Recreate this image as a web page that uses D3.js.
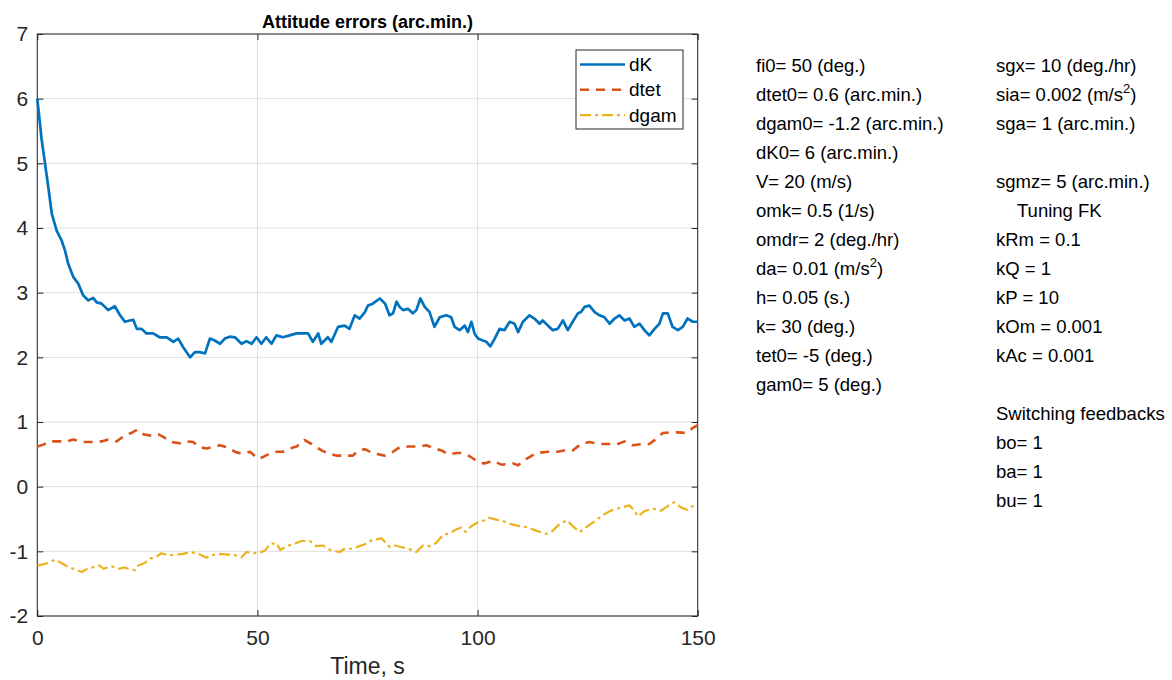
<!DOCTYPE html>
<html>
<head>
<meta charset="utf-8">
<script src="https://cdn.jsdelivr.net/npm/d3@7"></script>
<style>
  body { margin: 0; background: #fff; }
  svg { display: block; font-family: "Liberation Sans", Arial, sans-serif; }
</style>
</head>
<body>
<div id="chart"></div>
<script>
// data, [time s, value arc.min.]
const dK = [[0,6.0],[1,5.36],[1.75,5.0],[2.5,4.63],[3.3,4.22],[4.4,3.96],[5.5,3.81],[6.3,3.65],[7.0,3.45],[8.2,3.24],
  [9.3,3.14],[10.4,2.96],[11.6,2.88],[12.7,2.92],[13.5,2.85],[14.6,2.83],[16.1,2.73],[17.6,2.79],[18.8,2.65],[19.9,2.55],
  [21,2.57],[21.8,2.58],[22.6,2.44],[23.7,2.44],[24.8,2.37],[26.3,2.37],[27.8,2.31],[29.4,2.31],[30.9,2.24],[32,2.29],
  [33.1,2.16],[34.7,2.0],[35.8,2.08],[36.9,2.08],[38.1,2.06],[39.2,2.29],[40.3,2.26],[41.5,2.21],[42.6,2.29],[43.7,2.32],
  [44.9,2.31],[46.4,2.21],[47.5,2.25],[48.7,2.21],[49.8,2.31],[50.9,2.21],[52,2.31],[53.2,2.21],[54.3,2.34],[55.8,2.31],
  [57.3,2.34],[58.9,2.37],[60.4,2.37],[61.5,2.37],[62.6,2.24],[63.8,2.37],[64.5,2.21],[66,2.31],[66.8,2.24],[68.3,2.47],
  [69.8,2.49],[70.9,2.44],[72.1,2.65],[73.2,2.60],[74.4,2.70],[75.1,2.80],[76.2,2.83],[77.8,2.91],[79,2.83],[80,2.65],
  [80.8,2.68],[81.6,2.86],[82.3,2.78],[83.1,2.73],[84.2,2.75],[85.3,2.68],[86.1,2.73],[87,2.91],[88,2.78],[89.1,2.70],
  [90.2,2.47],[91.4,2.62],[92.9,2.65],[94,2.62],[94.8,2.47],[95.9,2.42],[97.1,2.49],[97.8,2.39],[98.6,2.55],[99.3,2.37],
  [100.1,2.29],[101.2,2.26],[102,2.24],[102.9,2.17],[103.9,2.29],[105,2.44],[106.1,2.42],[107.3,2.55],[108.4,2.52],[109.2,2.39],
  [110.3,2.55],[111.8,2.65],[112.9,2.60],[114.1,2.52],[114.8,2.57],[116,2.49],[117.1,2.42],[118.2,2.44],[119.4,2.57],[120.5,2.42],
  [121.6,2.55],[122.8,2.68],[123.5,2.70],[124.3,2.78],[125.4,2.80],[126.6,2.70],[127.7,2.65],[128.8,2.62],[130,2.52],[131.1,2.60],
  [132.2,2.65],[133.4,2.57],[134.5,2.60],[135.6,2.47],[136.8,2.52],[137.9,2.42],[139,2.34],[140.2,2.44],[141.3,2.52],[142.1,2.68],
  [143.2,2.68],[144.3,2.47],[145.5,2.42],[146.6,2.47],[147.7,2.60],[148.9,2.55],[150,2.55]]

const dtet = [[0,0.62],[1.4,0.65],[2.9,0.70],[5.2,0.70],[6.7,0.70],[8.2,0.73],[10.4,0.69],[12.7,0.69],[14.6,0.70],[16.1,0.73],
  [18,0.70],[20.3,0.81],[21.4,0.83],[22.7,0.88],[24.1,0.81],[25.6,0.79],[27.5,0.81],[28.6,0.77],[30.5,0.69],[32.4,0.67],
  [33.9,0.70],[35.4,0.69],[36.9,0.61],[38.4,0.59],[40.3,0.62],[41.5,0.64],[43,0.61],[45.2,0.53],[46.7,0.51],[48.3,0.54],
  [50.2,0.43],[51.3,0.46],[52.8,0.51],[54.3,0.54],[55.8,0.54],[57.3,0.59],[58.9,0.62],[60.7,0.72],[62.3,0.66],[63.4,0.61],
  [64.9,0.55],[66.4,0.51],[67.9,0.48],[69.8,0.48],[71.7,0.48],[72.8,0.56],[74.4,0.58],[76.2,0.52],[78.9,0.48],[80.8,0.54],
  [82.3,0.61],[84.2,0.62],[86.5,0.62],[88.4,0.64],[90.2,0.59],[91.8,0.56],[93.3,0.50],[95.2,0.52],[96.3,0.52],[98.2,0.47],
  [100.5,0.37],[101.6,0.36],[103.5,0.40],[105.4,0.34],[108,0.36],[109.2,0.33],[111.1,0.43],[113.3,0.52],[116,0.54],[118.2,0.54],
  [120.5,0.57],[121.6,0.56],[123.5,0.66],[125.4,0.69],[127.7,0.66],[130,0.66],[131.5,0.65],[133.4,0.70],[135.2,0.64],[137.5,0.66],
  [139,0.66],[140.6,0.74],[142.1,0.83],[143.6,0.84],[145.5,0.84],[147.4,0.83],[148.9,0.91],[150,0.95]]

const dgam = [[0,-1.22],[1.4,-1.20],[2.5,-1.18],[4,-1.13],[5.5,-1.18],[6.7,-1.23],[8.2,-1.27],[10.1,-1.32],[11.6,-1.26],[13.1,-1.24],
  [14.2,-1.22],[15,-1.27],[16.9,-1.23],[18.4,-1.27],[19.9,-1.25],[21,-1.28],[22.2,-1.29],[22.9,-1.22],[24.4,-1.18],[25.6,-1.11],
  [26.7,-1.10],[28.2,-1.03],[29.7,-1.06],[31.6,-1.05],[33.1,-1.04],[34.7,-1.01],[36.2,-1.03],[37.3,-1.06],[38.4,-1.10],[39.6,-1.06],
  [41.5,-1.04],[43.3,-1.05],[44.9,-1.06],[46.4,-1.09],[47.5,-1.01],[49,-1.03],[50.5,-1.02],[51.7,-0.99],[52.8,-0.89],[54.3,-0.87],
  [55.2,-0.98],[56.6,-0.92],[58.1,-0.89],[60,-0.84],[61.9,-0.84],[63.4,-0.92],[64.9,-0.91],[66.8,-0.99],[68.7,-1.01],[69.8,-0.96],
  [71.3,-0.96],[72.8,-0.93],[74.4,-0.89],[75.9,-0.83],[78.2,-0.80],[80,-0.93],[81.2,-0.91],[83.1,-0.94],[84.6,-0.97],[86.1,-1.01],
  [87.6,-0.91],[89.1,-0.92],[90.6,-0.87],[92.1,-0.75],[93.6,-0.72],[95.2,-0.66],[96.3,-0.63],[97.3,-0.70],[98.6,-0.61],[100.1,-0.55],
  [101.6,-0.52],[102.7,-0.48],[104.2,-0.51],[105.7,-0.53],[107.6,-0.58],[109.5,-0.61],[111.4,-0.63],[113.3,-0.68],[115.6,-0.73],[117.1,-0.68],
  [118.6,-0.58],[120.3,-0.52],[121.6,-0.61],[123.2,-0.70],[125,-0.61],[126.9,-0.52],[128.4,-0.44],[130.3,-0.37],[132.2,-0.33],[134.5,-0.29],
  [135.6,-0.37],[136.4,-0.46],[137.9,-0.38],[139.8,-0.34],[141.7,-0.37],[143.2,-0.30],[144.7,-0.24],[146.2,-0.32],[147.7,-0.36],[148.9,-0.30],
  [150,-0.32]]

const seriesNames = ["dK", "dtet", "dgam"]
const xTicks = [0, 50, 100, 150]
const yTicks = [-2, -1, 0, 1, 2, 3, 4, 5, 6, 7]
const chartTitle = "Attitude errors (arc.min.)"
const xLabel = "Time, s"

// parameter text, [row, text, text after superscript 2]
const leftParams = [
  [0, "fi0= 50 (deg.)"], [1, "dtet0= 0.6 (arc.min.)"], [2, "dgam0= -1.2 (arc.min.)"],
  [3, "dK0= 6 (arc.min.)"], [4, "V= 20 (m/s)"], [5, "omk= 0.5 (1/s)"],
  [6, "omdr= 2 (deg./hr)"], [7, "da= 0.01 (m/s", ")"], [8, "h= 0.05 (s.)"],
  [9, "k= 30 (deg.)"], [10, "tet0= -5 (deg.)"], [11, "gam0= 5 (deg.)"]
]
const rightParams = [
  [0, "sgx= 10 (deg./hr)"], [1, "sia= 0.002 (m/s", ")"], [2, "sga= 1 (arc.min.)"],
  [4, "sgmz= 5 (arc.min.)"], [5, "Tuning FK"], [6, "kRm = 0.1"], [7, "kQ = 1"],
  [8, "kP = 10"], [9, "kOm = 0.001"], [10, "kAc = 0.001"],
  [12, "Switching feedbacks"], [13, "bo= 1"], [14, "ba= 1"], [15, "bu= 1"]
]

const W = 1172, H = 680
const margin = {left: 37.3, top: 34, right: W - 697.7, bottom: H - 616}
const pw = W - margin.left - margin.right
const ph = H - margin.top - margin.bottom
const axisColor = "#262626"
const colors = ["#0072BD", "#D95319", "#EDB120"]
const dashes = [null, "9,7", "11,4,3,4"]
const widths = [2.7, 2.6, 2.2]

const svg = d3.select("#chart").append("svg")
    .attr("width", W).attr("height", H)

const g = svg.append("g").attr("transform", `translate(${margin.left},${margin.top})`)

const x = d3.scaleLinear().domain([0, 150]).range([0, pw])
const y = d3.scaleLinear().domain([-2, 7]).range([ph, 0])

// grid
g.append("g").selectAll("line").data(xTicks).enter().append("line")
    .attr("x1", d => x(d)).attr("x2", d => x(d)).attr("y1", 0).attr("y2", ph)
    .attr("stroke", "#dfdfdf").attr("stroke-width", 1)
g.append("g").selectAll("line").data(yTicks).enter().append("line")
    .attr("x1", 0).attr("x2", pw).attr("y1", d => y(d)).attr("y2", d => y(d))
    .attr("stroke", "#dfdfdf").attr("stroke-width", 1)

// axes, ticks inward
function styleAxis(sel){
    sel.select(".domain").remove()
    sel.selectAll(".tick line").attr("stroke", axisColor)
    sel.selectAll(".tick text").attr("fill", axisColor)
        .style("font-family", '"Liberation Sans", Arial, sans-serif')
        .style("font-size", "21px")
}
g.append("g").attr("transform", `translate(0,${ph})`)
    .call(d3.axisBottom(x).tickValues(xTicks).tickSizeInner(-6).tickSizeOuter(0).tickPadding(14).tickFormat(d => String(d)))
    .call(styleAxis)
g.append("g")
    .call(d3.axisTop(x).tickValues(xTicks).tickSizeInner(-6).tickSizeOuter(0).tickFormat(""))
    .call(styleAxis)
g.append("g")
    .call(d3.axisLeft(y).tickValues(yTicks).tickSizeInner(-6).tickSizeOuter(0).tickPadding(9).tickFormat(d => String(d)))
    .call(styleAxis)
g.append("g").attr("transform", `translate(${pw},0)`)
    .call(d3.axisRight(y).tickValues(yTicks).tickSizeInner(-6).tickSizeOuter(0).tickFormat(""))
    .call(styleAxis)

g.append("rect").attr("width", pw).attr("height", ph)
    .attr("fill", "none").attr("stroke", axisColor).attr("stroke-width", 1)

// lines
const line = d3.line().x(d => x(d[0])).y(d => y(d[1]))
const allSeries = [dK, dtet, dgam]
g.selectAll("path.series").data(allSeries).enter().append("path")
    .attr("class", "series")
    .attr("d", line)
    .attr("fill", "none")
    .attr("stroke", (d, i) => colors[i])
    .attr("stroke-width", (d, i) => widths[i])
    .attr("stroke-dasharray", (d, i) => dashes[i])
    .attr("stroke-linejoin", "round")

// legend
const legend = svg.append("g").attr("transform", "translate(576,50)")
legend.append("rect").attr("width", 107).attr("height", 79)
    .attr("fill", "#fff").attr("stroke", axisColor).attr("stroke-width", 1)
const item = legend.selectAll("g.item").data(seriesNames).enter().append("g")
    .attr("transform", (d, i) => `translate(0,${14.5 + i * 25.3})`)
item.append("line").attr("x1", 4).attr("x2", 49)
    .attr("stroke", (d, i) => colors[i])
    .attr("stroke-width", (d, i) => widths[i])
    .attr("stroke-dasharray", (d, i) => dashes[i])
item.append("text").attr("x", 53).attr("dy", "0.35em")
    .style("font-size", "19px").attr("fill", "#000").text(d => d)

// title and x label
svg.append("text").attr("x", margin.left + pw / 2).attr("y", 27.5)
    .attr("text-anchor", "middle").style("font-size", "18px").style("font-weight", "bold")
    .attr("fill", "#000").text(chartTitle)
svg.append("text").attr("x", margin.left + pw / 2).attr("y", 674)
    .attr("text-anchor", "middle").style("font-size", "23px")
    .attr("fill", axisColor).text(xLabel)

// parameter columns
function addParams(rows, x0){
    const t = svg.append("g").selectAll("text").data(rows).enter().append("text")
        .attr("x", d => d[1] === "Tuning FK" ? x0 + 21 : x0)
        .attr("y", d => 71.7 + d[0] * 29)
        .style("font-size", "18.5px").attr("fill", "#000")
    t.append("tspan").text(d => d[1])
    t.filter(d => d[2]).append("tspan").attr("dy", -8).style("font-size", "13px").text("2")
    t.filter(d => d[2]).append("tspan").attr("dy", 8).text(d => d[2])
}
addParams(leftParams, 756)
addParams(rightParams, 996)
</script>
</body>
</html>
